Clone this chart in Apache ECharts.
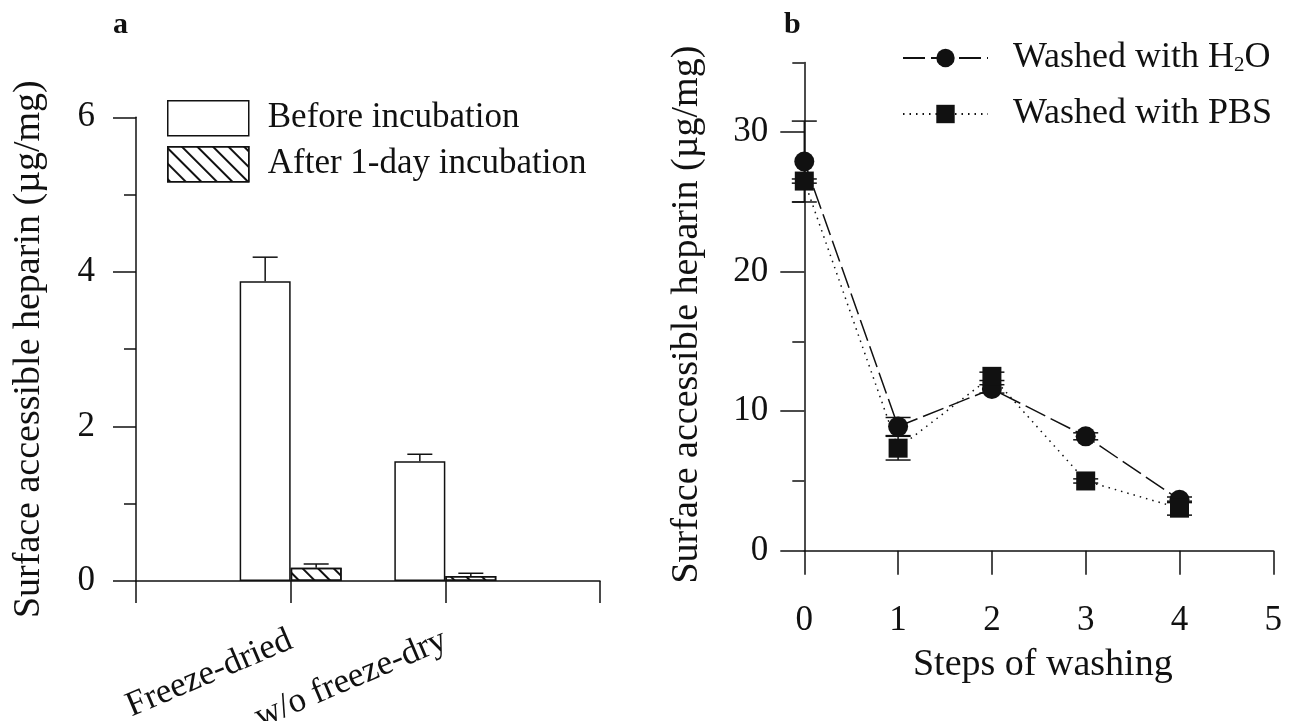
<!DOCTYPE html>
<html><head><meta charset="utf-8">
<script src="https://cdn.jsdelivr.net/npm/echarts@6/dist/echarts.min.js"></script>
<style>html,body{margin:0;padding:0;background:#fff}#c{width:1303px;height:721px}</style>
</head><body><div id="c"></div>
<script>
const FONT = '"Liberation Serif","Times New Roman",serif';
const INK = '#111';

// ---- Panel a data ----
const groupCategories = ['', 'Freeze-dried', 'w/o freeze-dry', ''];
const seriesNamesA = ['Before incubation', 'After 1-day incubation'];
const beforeValues = [null, 3.88, 1.55, null];
const beforeErrors = [null, 0.31, 0.09, null];
const afterValues = [null, 0.17, 0.065, null];
const afterErrors = [null, 0.05, 0.035, null];

// ---- Panel b data ----
const washSteps = [0, 1, 2, 3, 4];
const seriesNamesB = ['Washed with H2O', 'Washed with PBS'];
const h2oValues = [27.9, 8.9, 11.6, 8.2, 3.65];
const h2oErrors = [2.9, 0.65, 0.3, 0.25, 0.2];
const pbsValues = [26.5, 7.35, 12.5, 5.0, 3.05];
const pbsErrors = [0.15, 0.85, 0.3, 0.15, 0.5];
const yMajorTicksB = [0, 10, 20, 30];
const yMinorTicksB = [5, 15, 25, 35];

const BAR_W = 51;
const CAP = 25;
const LW = 1.5;

function barErrorSeries(values, errors, side) {
  const data = [];
  values.forEach((v, i) => { if (v != null) data.push([i, v, errors[i]]); });
  return {
    type: 'custom', xAxisIndex: 0, yAxisIndex: 0, z: 4, silent: true,
    data: data,
    renderItem: function (params, api) {
      const i = api.value(0), v = api.value(1), e = api.value(2);
      const p0 = api.coord([i, v]);
      const p1 = api.coord([i, v + e]);
      const cx = p0[0] + side * BAR_W / 2;
      const st = { stroke: INK, lineWidth: LW };
      return { type: 'group', children: [
        { type: 'line', shape: { x1: cx, y1: p0[1], x2: cx, y2: p1[1] }, style: st },
        { type: 'line', shape: { x1: cx - CAP / 2, y1: p1[1], x2: cx + CAP / 2, y2: p1[1] }, style: st }
      ]};
    }
  };
}

function pointErrorSeries(values, errors) {
  return {
    type: 'custom', xAxisIndex: 1, yAxisIndex: 1, z: 3, silent: true,
    data: washSteps.map((s, i) => [s, values[i], errors[i]]),
    renderItem: function (params, api) {
      const x = api.value(0), v = api.value(1), e = api.value(2);
      const pT = api.coord([x, v + e]);
      const pB = api.coord([x, v - e]);
      const st = { stroke: INK, lineWidth: LW };
      return { type: 'group', children: [
        { type: 'line', shape: { x1: pT[0], y1: pT[1], x2: pB[0], y2: pB[1] }, style: st },
        { type: 'line', shape: { x1: pT[0] - CAP / 2, y1: pT[1], x2: pT[0] + CAP / 2, y2: pT[1] }, style: st },
        { type: 'line', shape: { x1: pB[0] - CAP / 2, y1: pB[1], x2: pB[0] + CAP / 2, y2: pB[1] }, style: st }
      ]};
    }
  };
}

const axisLineStyle = { color: INK, width: LW };
const labelBase = { color: INK, fontFamily: FONT, fontSize: 35 };
const hatch = {
  symbol: 'rect', symbolSize: 1, color: INK,
  dashArrayX: [1, 0], dashArrayY: [1.2, 8.3], rotation: Math.PI / 4
};

const chart = echarts.init(document.getElementById('c'), null, { renderer: 'canvas' });
chart.setOption({
  animation: false,
  backgroundColor: '#fff',
  title: [
    { text: 'a', left: 113, top: 10, padding: 0, textStyle: { fontFamily: FONT, fontSize: 30, fontWeight: 'bold', color: INK } },
    { text: 'b', left: 784, top: 10, padding: 0, textStyle: { fontFamily: FONT, fontSize: 30, fontWeight: 'bold', color: INK } }
  ],
  legend: [
    { data: [seriesNamesA[0]], left: 167, top: 100, padding: 0, itemWidth: 81, itemHeight: 35, icon: 'rect', selectedMode: false,
      itemStyle: { color: '#fff', borderColor: INK, borderWidth: LW },
      textStyle: Object.assign({ padding: [0, 0, 0, 14] }, labelBase) },
    { data: [seriesNamesA[1]], left: 167, top: 146, padding: 0, itemWidth: 81, itemHeight: 35, icon: 'rect', selectedMode: false,
      itemStyle: { color: '#fff', borderColor: INK, borderWidth: LW },
      textStyle: Object.assign({ padding: [0, 0, 0, 14] }, labelBase) },
    { data: [seriesNamesB[0]], left: 902, top: 40, padding: 0, itemWidth: 85, itemHeight: 23, selectedMode: false,
      formatter: function () { return 'Washed with H{sub|2}O'; },
      textStyle: { color: INK, fontFamily: FONT, fontSize: 36, padding: [0, 0, 0, 20],
        rich: { sub: { color: INK, fontFamily: FONT, fontSize: 21, lineHeight: 21, verticalAlign: 'bottom' } } } },
    { data: [seriesNamesB[1]], left: 902, top: 96, padding: 0, itemWidth: 85, itemHeight: 23, selectedMode: false,
      textStyle: { color: INK, fontFamily: FONT, fontSize: 36, padding: [0, 0, 0, 20] } }
  ],
  grid: [
    { left: 136, top: 117.3, width: 464, height: 463.7, outerBoundsMode: 'none', containLabel: false },
    { left: 804.3, top: 62.5, width: 469, height: 488.2, outerBoundsMode: 'none', containLabel: false }
  ],
  xAxis: [
    { gridIndex: 0, type: 'category', data: groupCategories, boundaryGap: false,
      axisLine: { show: true, lineStyle: axisLineStyle },
      axisTick: { show: true, interval: 0, length: 22, lineStyle: axisLineStyle },
      axisLabel: Object.assign({ interval: 0, rotate: 23, margin: 58 }, labelBase),
      splitLine: { show: false } },
    { gridIndex: 1, type: 'value', min: 0, max: 5, interval: 1,
      axisLine: { show: true, lineStyle: axisLineStyle },
      axisTick: { show: true, length: 24, lineStyle: axisLineStyle },
      axisLabel: Object.assign({ margin: 53 }, labelBase),
      splitLine: { show: false },
      name: 'Steps of washing', nameLocation: 'middle', nameGap: 95,
      nameTextStyle: { color: INK, fontFamily: FONT, fontSize: 38, padding: [0, 0, 0, 8] } }
  ],
  yAxis: [
    { gridIndex: 0, type: 'value', min: 0, max: 6, interval: 2,
      axisLine: { show: true, lineStyle: axisLineStyle },
      axisTick: { show: true, length: 23, lineStyle: axisLineStyle },
      minorTick: { show: true, splitNumber: 2, length: 12, lineStyle: axisLineStyle },
      axisLabel: Object.assign({ margin: 41 }, labelBase),
      splitLine: { show: false }, minorSplitLine: { show: false },
      name: 'Surface accessible heparin (µg/mg)', nameLocation: 'middle', nameGap: 88,
      nameTextStyle: { color: INK, fontFamily: FONT, fontSize: 38 } },
    { gridIndex: 1, type: 'value', min: 0, max: 35, interval: 5,
      axisLine: { show: true, lineStyle: axisLineStyle },
      axisTick: { show: true, length: 24, customValues: yMajorTicksB, lineStyle: axisLineStyle },
      axisLabel: Object.assign({ margin: 36, customValues: yMajorTicksB }, labelBase),
      splitLine: { show: false },
      name: 'Surface accessible heparin (µg/mg)', nameLocation: 'middle', nameGap: 98,
      nameTextStyle: { color: INK, fontFamily: FONT, fontSize: 38, padding: [0, 16, 0, 0] } },
    { gridIndex: 1, type: 'value', min: 0, max: 35, interval: 5, position: 'left', offset: 0,
      axisLine: { show: false },
      axisTick: { show: true, length: 12, customValues: yMinorTicksB, lineStyle: axisLineStyle },
      axisLabel: { show: false },
      splitLine: { show: false } }
  ],
  series: [
    { name: seriesNamesA[0], type: 'bar', xAxisIndex: 0, yAxisIndex: 0, data: beforeValues,
      barWidth: BAR_W, barGap: '0%',
      itemStyle: { color: '#fff', borderColor: INK, borderWidth: LW } },
    { name: seriesNamesA[1], type: 'bar', xAxisIndex: 0, yAxisIndex: 0, data: afterValues,
      barWidth: BAR_W, barGap: '0%',
      itemStyle: { color: '#fff', borderColor: INK, borderWidth: LW, decal: hatch } },
    barErrorSeries(beforeValues, beforeErrors, -1),
    barErrorSeries(afterValues, afterErrors, 1),
    pointErrorSeries(h2oValues, h2oErrors),
    pointErrorSeries(pbsValues, pbsErrors),
    { name: seriesNamesB[0], type: 'line', xAxisIndex: 1, yAxisIndex: 1,
      data: washSteps.map((s, i) => [s, h2oValues[i]]),
      symbol: 'circle', symbolSize: 20, z: 5,
      lineStyle: { color: INK, width: LW, type: [22, 6] },
      itemStyle: { color: INK } },
    { name: seriesNamesB[1], type: 'line', xAxisIndex: 1, yAxisIndex: 1,
      data: washSteps.map((s, i) => [s, pbsValues[i]]),
      symbol: 'rect', symbolSize: 19, z: 5,
      lineStyle: { color: INK, width: LW, type: [1.5, 5] },
      itemStyle: { color: INK } }
  ]
});
</script></body></html>
